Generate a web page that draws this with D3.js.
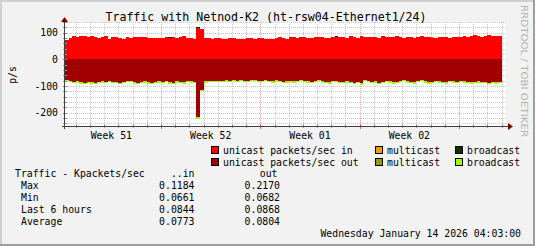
<!DOCTYPE html>
<html>
<head>
<meta charset="utf-8">
<script src="https://cdn.jsdelivr.net/npm/d3@7"></script>
<style>
  html, body { margin: 0; padding: 0; background: #f2f2f2; }
  svg { display: block; }
</style>
</head>
<body>
<div id="drawing"></div>
<script>
// series, one bar every 6 hours starting Dec 15 2025 06:00
const startTime = Date.UTC(2025, 11, 15, 6);
const stepMs = 6 * 3600 * 1000;

const unicastIn = [
  72, 80, 86, 83, 88, 87, 84, 88, 85, 80, 84, 86, 78, 82, 85, 79, 76, 82, 80, 85, 84, 85, 83, 80, 80, 81, 80,
  80, 82, 79, 84, 81, 83, 87, 79, 80, 76,
  118, 112,
  80, 79, 78, 80, 79, 78, 78, 79, 80, 77, 78, 78, 79, 80, 78, 79, 80,
  76, 78, 77, 79, 82, 80, 78, 84, 82, 80, 85, 83, 81, 80, 83, 84, 82, 80, 79, 83, 85, 84, 82, 81, 86, 83, 80, 86,
  84, 82, 85, 83, 80, 86, 84, 82, 85, 87, 83, 81, 85, 84, 80, 83, 86, 84, 82, 80, 79, 84, 85, 83, 81, 84, 85, 82,
  86, 84, 88, 90, 87, 85, 89, 90, 87, 88, 89
];
const multicastIn = [
  0, 0, 0, 2.5, 0, 0, 0, 0, 0, 0, 0, 0, 0, 0, 0, 0, 0, 0, 0, 0, 0, 0, 0, 0, 0, 0, 0,
  0, 0, 0, 0, 0, 0, 0, 0, 0, 0,
  0, 0,
  0, 0, 0, 0, 0, 0, 0, 0, 0, 0, 0, 0, 0, 0, 0, 0, 0,
  0, 0, 0, 0, 0, 0, 0, 0, 0, 0, 0, 0, 0, 0, 0, 0, 0, 0, 0, 0, 0, 0, 0, 0, 0, 0, 0, 0,
  0, 0, 0, 0, 0, 0, 0, 0, 0, 0, 0, 0, 0, 0, 0, 0, 0, 0, 0, 2, 0, 0, 0, 0, 0, 0, 0, 0,
  0, 0, 0, 0, 0, 0, 0, 0, 0, 0, 0
];
const broadcastIn = [
  0, 0, 0, 0, 0, 0, 0, 0, 0, 0, 0, 0, 0, 0, 0, 0, 0, 0, 0, 0, 0, 0, 0, 0, 0, 0, 0,
  0, 0, 3, 0, 0, 0, 0, 0, 0, 0,
  4, 0,
  0, 0, 0, 0, 0, 0, 0, 0, 0, 0, 0, 0, 0, 0, 0, 0, 0,
  0, 0, 0, 0, 0, 0, 0, 0, 0, 0, 0, 0, 0, 0, 0, 0, 0, 0, 0, 0, 3, 0, 0, 0, 0, 0, 0, 0,
  0, 0, 0, 0, 0, 0, 0, 0, 0, 0, 0, 0, 0, 0, 0, 0, 0, 0, 0, 0, 0, 0, 0, 0, 0, 0, 0, 0,
  0, 0, 0, 0, 0, 0, 0, 0, 0, 0, 0
];
const unicastOut = [
  76, 80, 84, 82, 86, 88, 84, 86, 90, 85, 82, 86, 80, 84, 86, 88, 84, 80, 82, 86, 88, 84, 83, 86, 88, 84, 82,
  84, 80, 86, 88, 82, 84, 86, 80, 82, 86,
  218, 115,
  82, 80, 81, 80, 82, 80, 79, 80, 78, 80, 79, 81, 80, 78, 79, 80, 81,
  78, 80, 82, 79, 80, 84, 82, 80, 83, 81, 78, 80, 82, 84, 80, 79, 82, 84, 86, 82, 80, 84, 86, 82, 84, 88, 85, 90,
  78, 80, 84, 82, 88, 84, 80, 82, 86, 84, 80, 78, 82, 84, 86, 80, 78, 82, 86, 84, 80, 82, 84, 86, 80, 82, 84, 80,
  82, 84, 86, 84, 82, 84, 86, 88, 84, 86, 85
];
const multicastOut = [
  0, 0, 0, 0, 0, 0, 0, 0, 0, 0, 0, 0, 0, 0, 0, 0, 0, 0, 0, 0, 0, 0, 0, 0, 0, 0, 0,
  0, 0, 0, 0, 0, 0, 0, 0, 0, 0,
  0, 0,
  0, 0, 0, 0, 0, 0, 0, 0, 0, 0, 0, 0, 0, 0, 0, 0, 0,
  0, 0, 0, 0, 0, 0, 0, 0, 0, 0, 0, 0, 0, 0, 0, 0, 0, 0, 0, 0, 0, 0, 0, 0, 0, 0, 0, 0,
  0, 0, 0, 0, 0, 0, 0, 0, 0, 0, 0, 0, 0, 0, 0, 0, 0, 0, 0, 0, 0, 0, 0, 0, 0, 0, 0, 0,
  0, 0, 0, 0, 0, 0, 0, 0, 0, 0, 0
];
const broadcastOut = [
  4, 5, 4, 6, 5, 4, 5, 6, 4, 5, 5, 4, 6, 5, 4, 5, 6, 5, 4, 5, 5, 6, 4, 5, 4, 5, 6,
  5, 4, 5, 6, 5, 4, 5, 5, 6, 4,
  6, 5,
  5, 4, 5, 5, 4, 6, 5, 4, 5, 5, 4, 5, 6, 5, 4, 5, 5,
  4, 5, 5, 6, 4, 5, 5, 4, 6, 5, 5, 4, 5, 6, 5, 4, 5, 5, 6, 4, 5, 5, 4, 6, 5, 5, 4, 5,
  5, 4, 6, 5, 5, 4, 5, 6, 5, 4, 5, 5, 6, 4, 5, 5, 4, 6, 5, 5, 4, 5, 6, 5, 4, 5, 5, 6,
  5, 4, 5, 6, 5, 5, 4, 6, 5, 5, 4
];

const yTicks = [100, 0, -100, -200];
const weekLabels = ["Week 51", "Week 52", "Week 01", "Week 02"];
const weekStarts = [Date.UTC(2025, 11, 15), Date.UTC(2025, 11, 22), Date.UTC(2025, 11, 29), Date.UTC(2026, 0, 5), Date.UTC(2026, 0, 12)];

const legendItems = [
  { label: "unicast packets/sec in", color: "#ff0000", col: 0, row: 0 },
  { label: "multicast", color: "#ff9900", col: 1, row: 0 },
  { label: "broadcast", color: "#003300", col: 2, row: 0 },
  { label: "unicast packets/sec out", color: "#a00000", col: 0, row: 1 },
  { label: "multicast", color: "#999900", col: 1, row: 1 },
  { label: "broadcast", color: "#99ff00", col: 2, row: 1 }
];
const statRows = ["Max", "Min", "Last 6 hours", "Average"];
const statIn = ["0.1184", "0.0661", "0.0844", "0.0773"];
const statOut = ["0.2170", "0.0682", "0.0868", "0.0804"];

const W = 535, H = 246;
const plotLeft = 65, plotRight = 506, plotTop = 22, plotBottom = 126;
const mono = "'DejaVu Sans Mono', monospace";

const svg = d3.select("#drawing").append("svg")
  .attr("width", W).attr("height", H)
  .style("font-family", mono);

// background + 3d frame
svg.append("rect").attr("width", W).attr("height", H).attr("fill", "#f2f2f2");
svg.append("rect").attr("x", 0).attr("y", 0).attr("width", W).attr("height", 2).attr("fill", "#cfcfcf");
svg.append("rect").attr("x", 0).attr("y", 0).attr("width", 2).attr("height", H).attr("fill", "#cfcfcf");
svg.append("rect").attr("x", 0).attr("y", H - 2).attr("width", W).attr("height", 2).attr("fill", "#9e9e9e");
svg.append("rect").attr("x", W - 2).attr("y", 0).attr("width", 2).attr("height", H).attr("fill", "#9e9e9e");

// canvas
svg.append("rect").attr("x", plotLeft).attr("y", plotTop)
  .attr("width", plotRight - plotLeft).attr("height", plotBottom - plotTop).attr("fill", "#fff");

// time scale: Dec 22 -> 161, Jan 12 -> 459
const pxPerDay = (459 - 161) / 21;
const dayMs = 86400000;
const t0 = Date.UTC(2025, 11, 22) - (161 - plotLeft) / pxPerDay * dayMs;
const t1 = Date.UTC(2026, 0, 12) + (plotRight - 459) / pxPerDay * dayMs;
const x = d3.scaleUtc().domain([t0, t1]).range([plotLeft, plotRight]);
const y = d3.scaleLinear().domain([-250, 140]).range([plotBottom, plotTop]);

const gGrid = svg.append("g").attr("shape-rendering", "crispEdges");
// minor horizontal grid every 20
d3.range(-240, 141, 20).filter((v) => v % 100 !== 0).forEach((v) => {
  gGrid.append("line").attr("x1", plotLeft).attr("x2", plotRight)
    .attr("y1", Math.round(y(v)) + 0.5).attr("y2", Math.round(y(v)) + 0.5)
    .attr("stroke", "#c8c8c8").attr("stroke-dasharray", "1,1");
});
// minor vertical grid every day
const days = d3.utcDay.range(new Date(t0), new Date(t1));
days.forEach((d) => {
  const px = Math.round(x(d)) + 0.5;
  gGrid.append("line").attr("x1", px).attr("x2", px).attr("y1", plotTop).attr("y2", plotBottom)
    .attr("stroke", "#c8c8c8").attr("stroke-dasharray", "1,1");
});
// major grid
yTicks.forEach((v) => {
  gGrid.append("line").attr("x1", plotLeft).attr("x2", plotRight)
    .attr("y1", Math.round(y(v)) + 0.5).attr("y2", Math.round(y(v)) + 0.5)
    .attr("stroke", "#e89090").attr("stroke-opacity", 0.7).attr("stroke-dasharray", "1,1");
});
weekStarts.slice(1).forEach((w) => {
  const px = Math.round(x(w)) + 0.5;
  gGrid.append("line").attr("x1", px).attr("x2", px).attr("y1", plotTop).attr("y2", plotBottom)
    .attr("stroke", "#e89090").attr("stroke-opacity", 0.7).attr("stroke-dasharray", "1,1");
});

// stacked bars
const rows = unicastIn.map((v, i) => ({
  t: startTime + i * stepMs,
  uin: v, min: multicastIn[i], bin: broadcastIn[i],
  uout: -unicastOut[i], mout: -multicastOut[i], bout: -broadcastOut[i]
}));
const keys = ["uin", "min", "bin", "uout", "mout", "bout"];
const colors = { uin: "#ff0000", min: "#ff9900", bin: "#003300", uout: "#a00000", mout: "#999900", bout: "#99ff00" };
const series = d3.stack().keys(keys).offset(d3.stackOffsetDiverging)(rows);

const gBars = svg.append("g").attr("shape-rendering", "crispEdges");
series.forEach((s) => {
  gBars.selectAll(null).data(s.filter((d) => d[0] !== d[1])).enter().append("rect")
    .attr("x", (d) => Math.round(x(d.data.t)))
    .attr("width", (d) => Math.round(x(d.data.t + stepMs)) - Math.round(x(d.data.t)))
    .attr("y", (d) => Math.round(y(Math.max(d[0], d[1]))))
    .attr("height", (d) => Math.round(y(Math.min(d[0], d[1]))) - Math.round(y(Math.max(d[0], d[1]))))
    .attr("fill", colors[s.key]);
});

// axes
const gAxis = svg.append("g").attr("shape-rendering", "crispEdges");
days.forEach((d) => {
  const px = Math.round(x(d)) + 0.5;
  gAxis.append("line").attr("x1", px).attr("x2", px).attr("y1", plotBottom - 2).attr("y2", plotBottom + 2).attr("stroke", "#999");
});
weekStarts.slice(1).forEach((w) => {
  const px = Math.round(x(w)) + 0.5;
  gAxis.append("line").attr("x1", px).attr("x2", px).attr("y1", plotBottom - 2).attr("y2", plotBottom + 3).attr("stroke", "#e06060");
});
d3.range(-240, 141, 20).forEach((v) => {
  const py = Math.round(y(v)) + 0.5;
  gAxis.append("line").attr("x1", plotLeft - 2).attr("x2", plotLeft + 2).attr("y1", py).attr("y2", py)
    .attr("stroke", v % 100 === 0 ? "#e06060" : "#999");
});
gAxis.append("line").attr("x1", plotLeft - 0.5).attr("x2", plotLeft - 0.5).attr("y1", 20).attr("y2", plotBottom + 3).attr("stroke", "#404040");
gAxis.append("line").attr("x1", plotLeft - 3).attr("x2", plotRight + 3).attr("y1", plotBottom + 0.5).attr("y2", plotBottom + 0.5).attr("stroke", "#404040");
svg.append("path").attr("d", `M${plotLeft - 4},22 L${plotLeft - 0.5},17 L${plotLeft + 3},22 Z`).attr("fill", "#800000");
svg.append("path").attr("d", `M${plotRight + 2},${plotBottom - 3} L${plotRight + 7},${plotBottom + 0.5} L${plotRight + 2},${plotBottom + 4} Z`).attr("fill", "#800000");

// y tick labels
svg.append("g").selectAll("text").data(yTicks).enter().append("text")
  .attr("x", 58).attr("y", (d) => y(d) + 3.5)
  .attr("text-anchor", "end").attr("font-size", "9.8px").text((d) => d);

// x labels, centred mid-week
svg.append("g").selectAll("text").data(weekLabels).enter().append("text")
  .attr("x", (d, i) => x(weekStarts[i] + 3.5 * dayMs))
  .attr("y", 139).attr("text-anchor", "middle").attr("font-size", "9.8px").text((d) => d);

// title
svg.append("text").attr("x", 266).attr("y", 21).attr("text-anchor", "middle")
  .attr("font-size", "11.6px").text("Traffic with Netnod-K2 (ht-rsw04-Ethernet1/24)");

// y label
svg.append("text").attr("transform", "translate(16,75) rotate(-90)")
  .attr("text-anchor", "middle").attr("font-size", "9.8px").text("p/s");

// watermark
svg.append("text").attr("transform", "translate(521,5) rotate(90)")
  .attr("font-family", "'DejaVu Sans', sans-serif").attr("font-size", "9px")
  .attr("fill", "#b4b4b4").attr("textLength", 132).attr("lengthAdjust", "spacingAndGlyphs")
  .text("RRDTOOL / TOBI OETIKER");

// legend
const colX = [211, 375, 455];
const gLeg = svg.append("g");
legendItems.forEach((it) => {
  const bx = colX[it.col], by = 146 + it.row * 12;
  gLeg.append("rect").attr("x", bx + 0.5).attr("y", by + 0.5).attr("width", 7).attr("height", 7)
    .attr("fill", it.color).attr("stroke", "#000").attr("shape-rendering", "crispEdges");
  gLeg.append("text").attr("x", bx + 12).attr("y", by + 7.5).attr("font-size", "9.8px").text(it.label);
});

// stats block
svg.append("text").attr("x", 15).attr("y", 177).attr("font-size", "9.8px").text("Traffic - Kpackets/sec");
svg.append("text").attr("x", 194.5).attr("y", 177).attr("text-anchor", "end").attr("font-size", "9.8px").text("..in");
svg.append("text").attr("x", 277.5).attr("y", 177).attr("text-anchor", "end").attr("font-size", "9.8px").text("out");
statRows.forEach((r, i) => {
  const by = 189 + i * 12;
  svg.append("text").attr("x", 21).attr("y", by).attr("font-size", "9.8px").text(r);
  svg.append("text").attr("x", 194.5).attr("y", by).attr("text-anchor", "end").attr("font-size", "9.8px").text(statIn[i]);
  svg.append("text").attr("x", 280).attr("y", by).attr("text-anchor", "end").attr("font-size", "9.8px").text(statOut[i]);
});

svg.append("text").attr("x", 521).attr("y", 237).attr("text-anchor", "end").attr("font-size", "9.8px")
  .text("Wednesday January 14 2026 04:03:00");
</script>
</body>
</html>
